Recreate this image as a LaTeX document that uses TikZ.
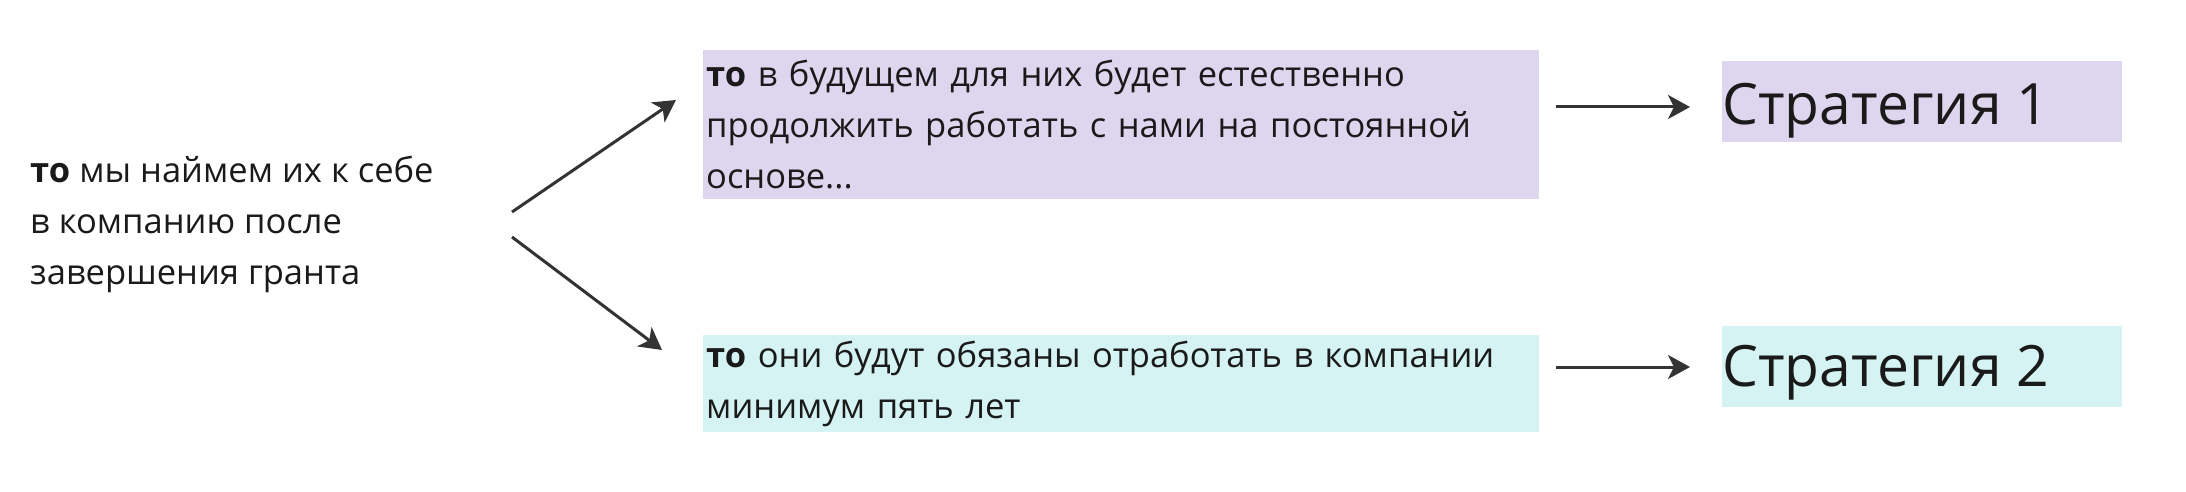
\documentclass[tikz,border=0pt]{standalone}
\usepackage{fontspec}
\setmainfont{Open Sans}
\usetikzlibrary{arrows.meta}
\definecolor{txt}{HTML}{1A1A1A}
\definecolor{arr}{HTML}{333333}
\definecolor{lav}{HTML}{DED6EE}
\definecolor{aqua}{HTML}{D5F3F3}
\tikzset{
  body/.style={font=\fontsize{34.5}{51}\selectfont, text=txt, align=left, inner sep=0pt},
  boxA/.style={body, fill=lav, anchor=north west, minimum height=149pt, text width=830pt, inner xsep=3pt},
  boxB/.style={body, fill=aqua, anchor=north west, minimum height=97pt, text width=830pt, inner xsep=3pt},
  stratbox/.style={fill=#1, anchor=north west, minimum width=400pt, minimum height=81pt, inner sep=0pt},
  strattext/.style={font=\fontsize{57}{64}\selectfont, text=txt, anchor=west, inner sep=0pt},
  conn/.style={draw=arr, line width=3pt, -{Stealth[length=22pt,width=24pt,inset=6pt]}}
}
\begin{document}
\begin{tikzpicture}[x=1pt,y=-1pt]
\useasboundingbox[fill=white] (0,0) rectangle (2186,492);
\node[body, anchor=west] (src) at (30,224) {\textbf{то} мы наймем их к себе\\в компанию после\\завершения гранта};
\node[boxA] (p1) at (703,50) {\textbf{то} в будущем для них будет естественно\\продолжить работать с нами на постоянной\\основе...};
\node[boxB] (p2) at (703,335) {\textbf{то} они будут обязаны отработать в компании\\минимум пять лет};
\node[stratbox=lav] (s1) at (1722,61) {};
\node[stratbox=aqua] (s2) at (1722,326) {};
\node[strattext] (t1) at (1722,111) {Стратегия 1};
\node[strattext] (t2) at (1722,373) {Стратегия 2};
\coordinate (a1) at (512,212);
\coordinate (b1) at (676,100);
\coordinate (a2) at (512,237);
\coordinate (b2) at (662,350);
\coordinate (c1) at (1556,107);
\coordinate (d1) at (1690,107);
\coordinate (c2) at (1556,367);
\coordinate (d2) at (1690,367);
\draw[conn] (a1) -- (b1);
\draw[conn] (a2) -- (b2);
\draw[conn] (c1) -- (d1);
\draw[conn] (c2) -- (d2);
\end{tikzpicture}
\end{document}
